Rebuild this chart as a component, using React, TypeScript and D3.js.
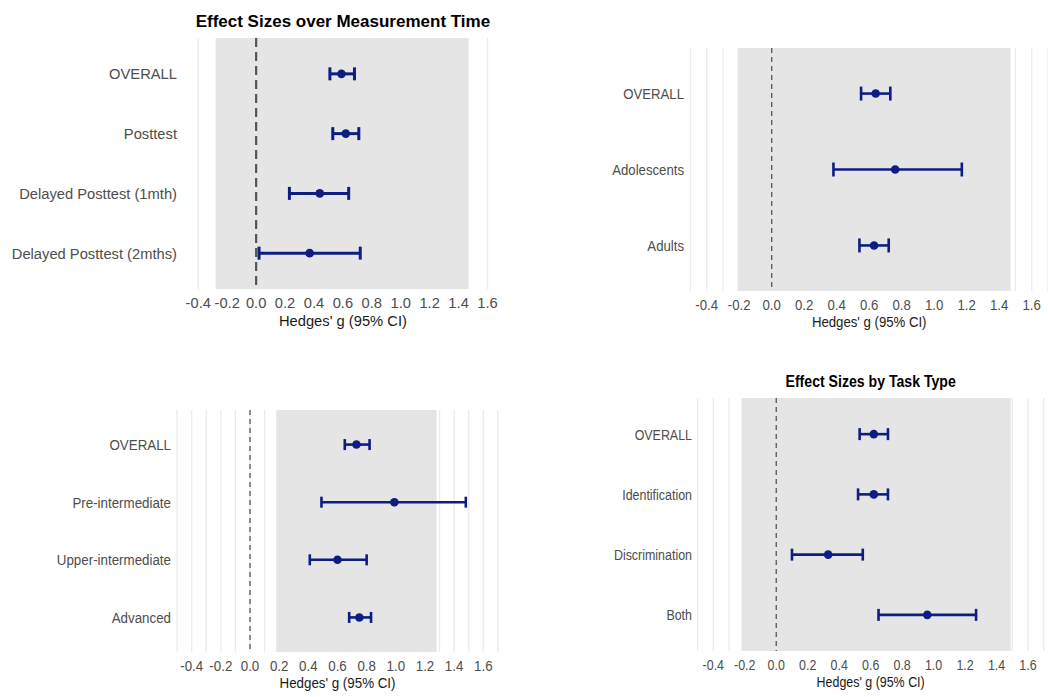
import React from 'react';
import * as d3 from 'd3';

// ---- data ----
const tickLabels = ['-0.4', '-0.2', '0.0', '0.2', '0.4', '0.6', '0.8', '1.0', '1.2', '1.4', '1.6'];

const timeLabels = ['OVERALL', 'Posttest', 'Delayed Posttest (1mth)', 'Delayed Posttest (2mths)'];
const timeEst = [0.59, 0.62, 0.44, 0.37];
const timeLower = [0.51, 0.53, 0.23, 0.02];
const timeUpper = [0.68, 0.71, 0.64, 0.72];
const timeShade = [-0.28, 1.47];

const ageLabels = ['OVERALL', 'Adolescents', 'Adults'];
const ageEst = [0.64, 0.76, 0.63];
const ageLower = [0.55, 0.38, 0.54];
const ageUpper = [0.73, 1.17, 0.72];
const ageShade = [-0.21, 1.47];

const profLabels = ['OVERALL', 'Pre-intermediate', 'Upper-intermediate', 'Advanced'];
const profEst = [0.73, 0.99, 0.6, 0.75];
const profLower = [0.65, 0.49, 0.41, 0.68];
const profUpper = [0.82, 1.48, 0.8, 0.83];
const profShade = [0.18, 1.28];

const taskLabels = ['OVERALL', 'Identification', 'Discrimination', 'Both'];
const taskEst = [0.62, 0.62, 0.33, 0.96];
const taskLower = [0.53, 0.52, 0.1, 0.65];
const taskUpper = [0.71, 0.71, 0.55, 1.27];
const taskShade = [-0.22, 1.49];

const W = 1048;
const H = 697;
const FONT = '"Liberation Sans", Arial, Helvetica, sans-serif';
const NAVY = '#0f1d82';

function SText({ x, y, sx, size, anchor, weight, fill, children }: any) {
  return (
    <text
      transform={`translate(${x},${y}) scale(${sx},1)`}
      textAnchor={anchor}
      fontSize={size}
      fontWeight={weight || 'normal'}
      fill={fill}
      fontFamily={FONT}
    >
      {children}
    </text>
  );
}

function Forest(props: any) {
  const { labels, est, lower, upper, shade, title, lay } = props;
  // x: tick positions -0.4 .. 1.6
  const x = d3.scaleLinear().domain([-0.4, 1.6]).range([lay.xMin, lay.xMax]);
  const y = d3.scalePoint<string>().domain(labels).range([lay.top, lay.bottom]).padding(0.6);
  const ticks = tickLabels.map((t) => +t);
  const grid = d3.range(lay.gridFrom, lay.gridTo + 1e-9, lay.gridStep);
  const cap = lay.cap;
  const fs = lay.fs;
  const sx = lay.sx;
  const sw = lay.barW;

  return (
    <g>
      {grid.map((g, i) => (
        <line key={'g' + i} x1={x(g)} x2={x(g)} y1={lay.top} y2={lay.bottom}
          stroke="#ebebeb" strokeWidth={1.3} />
      ))}
      <rect x={x(shade[0])} y={lay.top} width={x(shade[1]) - x(shade[0])}
        height={lay.bottom - lay.top} fill="#e5e5e5" />
      <line x1={x(0)} x2={x(0)} y1={lay.top} y2={lay.bottom}
        stroke="#555" strokeWidth={lay.refW} strokeDasharray={lay.refDash} />
      {labels.map((l: string, i: number) => {
        const yy = y(l) as number;
        return (
          <g key={l}>
            <line x1={x(lower[i])} x2={x(upper[i])} y1={yy} y2={yy} stroke={NAVY} strokeWidth={sw} />
            <line x1={x(lower[i])} x2={x(lower[i])} y1={yy - cap} y2={yy + cap} stroke={NAVY} strokeWidth={sw} />
            <line x1={x(upper[i])} x2={x(upper[i])} y1={yy - cap} y2={yy + cap} stroke={NAVY} strokeWidth={sw} />
            <circle cx={x(est[i])} cy={yy} r={4.3} fill={NAVY} />
            <SText x={lay.labelX} y={yy + fs * 0.36} sx={sx} size={fs} anchor="end" fill="#4d4d4d">{l}</SText>
          </g>
        );
      })}
      {ticks.map((t, i) => (
        <SText key={'t' + i} x={x(t)} y={lay.bottom + 13.5 + fs * 0.36} sx={sx} size={fs}
          anchor="middle" fill="#4d4d4d">{tickLabels[i]}</SText>
      ))}
      <SText x={(x(-0.4) + x(1.6)) / 2} y={lay.bottom + 31 + fs * 0.36} sx={sx} size={fs}
        anchor="middle" fill="#1a1a1a">Hedges' g (95% CI)</SText>
      {title && (
        <SText x={(x(-0.4) + x(1.6)) / 2} y={lay.top - 17 + 17 * 0.36} sx={lay.tsx} size={17}
          anchor="middle" weight="bold" fill="#000">{title}</SText>
      )}
    </g>
  );
}

const layTime = { xMin: 198.3, xMax: 487.5, top: 38, bottom: 289, labelX: 177, fs: 15.5, sx: 0.95, tsx: 1.0,
  gridFrom: -0.4, gridTo: 1.6, gridStep: 0.2, cap: 6.5, refW: 2.2, refDash: '9,5', barW: 3 };
const layAge = { xMin: 706.7, xMax: 1031.7, top: 48, bottom: 291, labelX: 684, fs: 15, sx: 0.88, tsx: 0.88,
  gridFrom: -0.5, gridTo: 1.7, gridStep: 0.1, cap: 7, refW: 1.3, refDash: '5,4', barW: 2.6 };
const layProf = { xMin: 191.7, xMax: 483.3, top: 410, bottom: 652, labelX: 171, fs: 15, sx: 0.89, tsx: 0.89,
  gridFrom: -0.5, gridTo: 1.7, gridStep: 0.1, cap: 5.5, refW: 1.3, refDash: '5,4', barW: 2.6 };
const layTask = { xMin: 713.3, xMax: 1028, top: 398, bottom: 651, labelX: 692, fs: 15, sx: 0.83, tsx: 0.83,
  gridFrom: -0.5, gridTo: 1.7, gridStep: 0.1, cap: 6, refW: 1.3, refDash: '5,4', barW: 2.6 };

export default function App() {
  return (
    <div style={{ position: 'absolute', left: 0, top: 0 }}>
      <svg width={W} height={H} style={{ display: 'block', background: '#fff' }}>
        <Forest labels={timeLabels} est={timeEst} lower={timeLower} upper={timeUpper}
          shade={timeShade} title="Effect Sizes over Measurement Time" lay={layTime} />
        <Forest labels={ageLabels} est={ageEst} lower={ageLower} upper={ageUpper}
          shade={ageShade} lay={layAge} />
        <Forest labels={profLabels} est={profEst} lower={profLower} upper={profUpper}
          shade={profShade} lay={layProf} />
        <Forest labels={taskLabels} est={taskEst} lower={taskLower} upper={taskUpper}
          shade={taskShade} title="Effect Sizes by Task Type" lay={layTask} />
      </svg>
    </div>
  );
}
